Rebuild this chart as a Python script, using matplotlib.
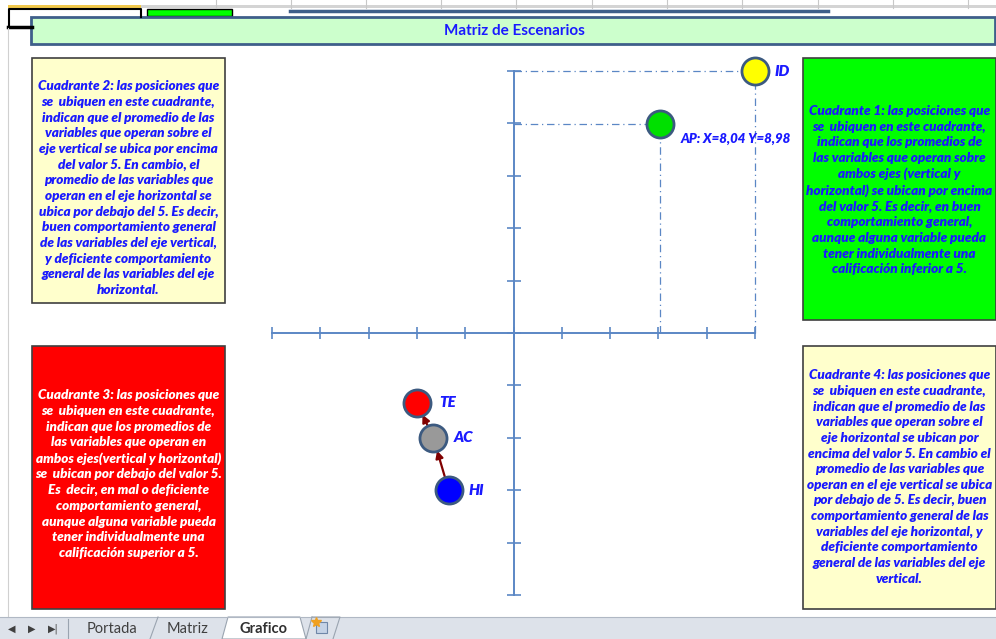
import matplotlib
matplotlib.use("Agg")
import matplotlib.pyplot as plt
from matplotlib.patches import Rectangle, Polygon

# datos de los puntos (escala 0-10 en ambos ejes, centro en 5)
names = ["ID", "AP", "TE", "AC", "HI"]
x_vals = [10.0, 8.04, 3.0, 3.34, 3.66]
y_vals = [10.0, 8.98, 3.67, 3.0, 2.0]
point_colors = ["#ffff00", "#00e000", "#ff0000", "#999999", "#0000ff"]
point_labels = ["ID", "AP: X=8,04 Y=8,98", "TE", "AC", "HI"]
label_offsets = [(20, 0), (20, -14), (22, 0), (20, 0), (20, 0)]
axis_ticks = list(range(0, 11))
center = 5

# flechas de trayectoria (desde, hacia)
arrows = [("HI", "AC"), ("AC", "TE")]

title = "Matriz de Escenarios"
q1_text = ("Cuadrante 1: las posiciones que\nse  ubiquen en este cuadrante,\n"
           "indican que los promedios de\nlas variables que operan sobre\n"
           "ambos ejes (vertical y\nhorizontal) se ubican por encima\n"
           "del valor 5. Es decir, en buen\ncomportamiento general,\n"
           "aunque alguna variable pueda\ntener individualmente una\n"
           "calificación inferior a 5.")
q2_text = ("Cuadrante 2: las posiciones que\nse  ubiquen en este cuadrante,\n"
           "indican que el promedio de las\nvariables que operan sobre el\n"
           "eje vertical se ubica por encima\ndel valor 5. En cambio, el\n"
           "promedio de las variables que\noperan en el eje horizontal se\n"
           "ubica por debajo del 5. Es decir,\nbuen comportamiento general\n"
           "de las variables del eje vertical,\ny deficiente comportamiento\n"
           "general de las variables del eje\nhorizontal.")
q3_text = ("Cuadrante 3: las posiciones que\nse  ubiquen en este cuadrante,\n"
           "indican que los promedios de\nlas variables que operan en\n"
           "ambos ejes(vertical y horizontal)\nse  ubican por debajo del valor 5.\n"
           "Es  decir, en mal o deficiente\ncomportamiento general,\n"
           "aunque alguna variable pueda\ntener individualmente una\n"
           "calificación superior a 5.")
q4_text = ("Cuadrante 4: las posiciones que\nse  ubiquen en este cuadrante,\n"
           "indican que el promedio de las\nvariables que operan sobre el\n"
           "eje horizontal se ubican por\nencima del valor 5. En cambio el\n"
           "promedio de las variables que\noperan en el eje vertical se ubica\n"
           "por debajo de 5. Es decir, buen\ncomportamiento general de las\n"
           "variables del eje horizontal, y\ndeficiente comportamiento\n"
           "general de las variables del eje\nvertical.")
sheet_tabs = ["Portada", "Matriz", "Grafico"]

W, H = 996, 639
fig = plt.figure(figsize=(W / 100, H / 100), dpi=100)
fig.patch.set_facecolor("white")

# fondo tipo hoja de calculo, en pixeles
bg = fig.add_axes([0, 0, 1, 1])
bg.set_xlim(0, W)
bg.set_ylim(H, 0)
bg.axis("off")

narrow = ["Lato", "DejaVu Sans"]
blue_txt = "#1a1aff"

# encabezado de excel
bg.add_patch(Rectangle((8, 5), 133, 3, facecolor="#f2c94c", edgecolor="none"))
bg.add_patch(Rectangle((141, 5), W - 141, 3, facecolor="#d4d4d4", edgecolor="none"))
for cx in [216, 291, 366, 441, 516, 592, 667, 742, 818, 893, 968]:
    bg.plot([cx, cx], [0, 8], color="#c8c8c8", lw=0.8)
bg.plot([9, 9, 141, 141], [27, 9, 9, 17], color="black", lw=1.5)
bg.plot([8, 32], [27, 27], color="black", lw=2.5)
bg.add_patch(Rectangle((147, 9), 85, 7, facecolor="#00ff00", edgecolor="black", lw=1))
bg.plot([290, 828], [11, 11], color="#3f5f8a", lw=2.5)
bg.plot([8, 8], [28, 617], color="#d0d0d0", lw=0.8)

# barra de titulo
bg.add_patch(Rectangle((31, 17), 964, 27, facecolor="#ccffcc", edgecolor="#3e5f8a", lw=2))
bg.text(514, 31, title, ha="center", va="center", color=blue_txt,
        fontsize=11, fontweight="bold", family=["Lato", "DejaVu Sans"])

# cuadros de los cuadrantes
boxes = [
    (32, 58, 193, 245, "#ffffcc", q2_text, blue_txt, 188),
    (803, 58, 193, 262, "#00ff00", q1_text, blue_txt, 190),
    (32, 346, 193, 263, "#ff0000", q3_text, "white", 474),
    (803, 346, 193, 263, "#ffffcc", q4_text, blue_txt, 477),
]
for bx, by, bw, bh, fc, txt, tc, ty in boxes:
    bg.add_patch(Rectangle((bx, by), bw, bh, facecolor=fc, edgecolor="#404040", lw=1.2))
    bg.text(bx + bw / 2, ty, txt, ha="center", va="center", color=tc,
            fontsize=9.7, fontweight="heavy", fontstyle="italic",
            linespacing=1.36, family=narrow)

# pestanas de hojas
bg.add_patch(Rectangle((0, 617), W, 22, facecolor="#dde2ea", edgecolor="none"))
bg.plot([0, W], [617, 617], color="#b0b8c4", lw=0.8)
for ax_x, sym in [(12, "◀"), (32, "▶"), (53, "▶|")]:
    bg.text(ax_x, 629, sym, ha="center", va="center", fontsize=7, color="#404040")
bg.add_patch(Polygon([[222, 639], [228, 617], [300, 617], [306, 639]],
                     closed=True, facecolor="white", edgecolor="#9aa4b0", lw=0.8))
bg.plot([158, 150], [617, 639], color="#9aa4b0", lw=0.8)
bg.plot([68, 68], [619, 639], color="#9aa4b0", lw=0.8)
bg.plot([306, 312], [639, 617], color="#9aa4b0", lw=0.8)
bg.plot([312, 340, 333], [617, 617, 639], color="#9aa4b0", lw=0.8)
bg.text(112, 629, sheet_tabs[0], ha="center", va="center", fontsize=10.5,
        color="#404040", family=["Lato", "DejaVu Sans"])
bg.text(188, 629, sheet_tabs[1], ha="center", va="center", fontsize=10.5,
        color="#404040", family=["Lato", "DejaVu Sans"])
bg.text(264, 629, sheet_tabs[2], ha="center", va="center", fontsize=10.5,
        color="#303030", fontweight="bold", family=["Lato", "DejaVu Sans"])
bg.add_patch(Rectangle((316, 622), 11, 11, facecolor="#c5d3e6", edgecolor="#6f87a8", lw=0.8))
bg.plot([316], [622], marker="*", color="#f0a020", markersize=7)

# grafico de escenarios
ax = fig.add_axes([272 / W, (H - 595) / H, (755 - 272) / W, (595 - 71) / H])
ax.set_xlim(0, 10)
ax.set_ylim(0, 10)
ax.axis("off")

axis_col = "#5b87c5"
ax.plot([0, 10], [center, center], color=axis_col, lw=1.4, clip_on=False)
ax.plot([center, center], [0, 10], color=axis_col, lw=1.4, clip_on=False)
for t in axis_ticks:
    ax.plot([t], [center], marker="|", markersize=9, color=axis_col, mew=1.2, clip_on=False)
    ax.plot([center], [t], marker="_", markersize=10, color=axis_col, mew=1.2, clip_on=False)

# lineas guia de ID y AP
for i in [0, 1]:
    ax.plot([center, x_vals[i]], [y_vals[i], y_vals[i]], color=axis_col, lw=0.9,
            ls="-.", dashes=(6, 3, 1, 3), clip_on=False)
    ax.plot([x_vals[i], x_vals[i]], [center, y_vals[i]], color=axis_col, lw=0.9,
            ls="-.", dashes=(6, 3, 1, 3), clip_on=False)

# flechas
idx = {n: k for k, n in enumerate(names)}
for a, b in arrows:
    ax.annotate("", xy=(x_vals[idx[b]], y_vals[idx[b]]),
                xytext=(x_vals[idx[a]], y_vals[idx[a]]),
                arrowprops=dict(arrowstyle="-|>", color="#800000", lw=1.6,
                                shrinkA=9, shrinkB=9.5, mutation_scale=11))

# puntos
for i in range(len(names)):
    ax.plot(x_vals[i], y_vals[i], "o", markersize=19.5, markerfacecolor=point_colors[i],
            markeredgecolor="#3c5a80", markeredgewidth=2, clip_on=False, zorder=5)
    small = names[i] == "AP"
    ax.annotate(point_labels[i], (x_vals[i], y_vals[i]), xytext=label_offsets[i],
                textcoords="offset pixels", ha="left", va="center", color=blue_txt,
                fontsize=9.5 if small else 11, fontweight="heavy", fontstyle="italic",
                family=narrow, zorder=6)

fig.savefig("out.png", dpi=100)
